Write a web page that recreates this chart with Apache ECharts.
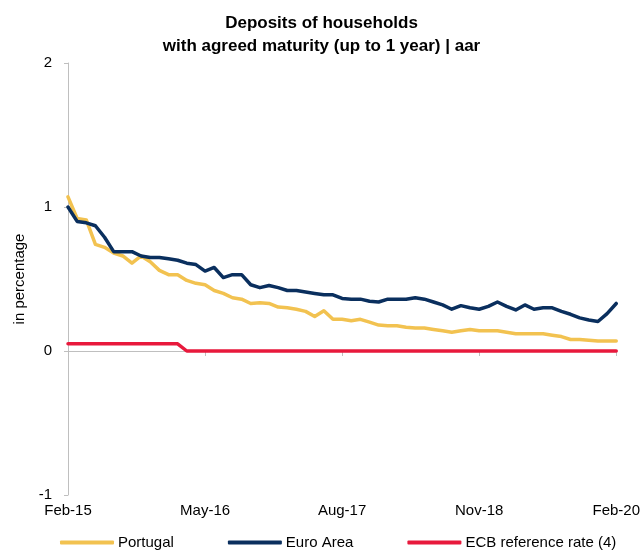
<!DOCTYPE html>
<html>
<head>
<meta charset="utf-8">
<script src="https://cdn.jsdelivr.net/npm/echarts@6/dist/echarts.min.js"></script>
<style>
html,body{margin:0;padding:0;background:#fff;}
#chart{width:643px;height:554px;}
</style>
</head>
<body>
<div id="chart"></div>
<script>
const months = ['Jan','Feb','Mar','Apr','May','Jun','Jul','Aug','Sep','Oct','Nov','Dec'];
const categories = [];
for (let i = 0; i <= 60; i++) {
  const m = (1 + i) % 12;
  const y = 15 + Math.floor((1 + i) / 12);
  categories.push(months[m] + '-' + y);
}
const portugal = [1.07,0.92,0.91,0.74,0.72,0.68,0.66,0.61,0.66,0.62,0.56,0.53,0.53,0.49,0.47,0.46,0.42,0.40,0.37,0.36,0.33,0.335,0.33,0.305,0.30,0.29,0.275,0.24,0.28,0.22,0.22,0.21,0.22,0.20,0.18,0.175,0.175,0.165,0.16,0.16,0.15,0.14,0.13,0.14,0.15,0.14,0.14,0.14,0.13,0.12,0.12,0.12,0.12,0.11,0.10,0.08,0.08,0.075,0.07,0.07,0.07];
const euroArea = [1.0,0.90,0.89,0.87,0.79,0.69,0.69,0.69,0.66,0.65,0.65,0.64,0.63,0.61,0.60,0.555,0.58,0.51,0.53,0.53,0.46,0.44,0.455,0.44,0.42,0.42,0.41,0.40,0.39,0.39,0.365,0.36,0.36,0.345,0.34,0.36,0.36,0.36,0.37,0.36,0.34,0.32,0.29,0.315,0.30,0.29,0.31,0.34,0.31,0.285,0.32,0.29,0.30,0.30,0.275,0.255,0.23,0.215,0.205,0.26,0.33];
const ecbRate = [0.05,0.05,0.05,0.05,0.05,0.05,0.05,0.05,0.05,0.05,0.05,0.05,0.05,0,0,0,0,0,0,0,0,0,0,0,0,0,0,0,0,0,0,0,0,0,0,0,0,0,0,0,0,0,0,0,0,0,0,0,0,0,0,0,0,0,0,0,0,0,0,0,0];
const yTicks = [-1, 0, 1, 2];

const FONT = "'Liberation Sans Narrow', 'Arial Narrow', 'Liberation Sans', Arial, sans-serif";
const chart = echarts.init(document.getElementById('chart'), null, {renderer: 'canvas'});
const lineSeries = (name, data, color) => ({
  name, type: 'line', data, showSymbol: false, symbol: 'none',
  lineStyle: {color, width: 3.5, cap: 'round', join: 'round'},
  itemStyle: {color}, xAxisIndex: 0, yAxisIndex: 0
});
chart.setOption({
  animation: false,
  backgroundColor: '#ffffff',
  textStyle: {fontFamily: FONT},
  title: {
    text: 'Deposits of households\nwith agreed maturity (up to 1 year) | aar',
    left: 'center', top: 7,
    textStyle: {fontFamily: FONT, fontSize: 17, fontWeight: 'bold', color: '#000', lineHeight: 23}
  },
  legend: {
    bottom: -1, left: 55, itemGap: 54, itemWidth: 54, itemHeight: 4,
    icon: 'roundRect',
    textStyle: {fontFamily: FONT, fontSize: 15, color: '#000', padding: [0,0,0,-1]},
    data: ['Portugal', 'Euro Area', 'ECB reference rate (4)']
  },
  grid: {left: 68, right: 26, top: 63, bottom: 59, containLabel: false},
  xAxis: [{
    type: 'category', data: categories, boundaryGap: false, position: 'bottom',
    axisLine: {onZero: true, lineStyle: {color: '#bfbfbf', width: 1}},
    axisTick: {show: true, interval: 14, length: 5, lineStyle: {color: '#bfbfbf'}},
    axisLabel: {show: false}, splitLine: {show: false}
  }, {
    type: 'category', data: categories, boundaryGap: false, position: 'bottom',
    axisLine: {show: false, onZero: false}, axisTick: {show: false},
    axisLabel: {show: true, interval: 14, margin: 8, fontSize: 15, color: '#000', fontFamily: FONT},
    splitLine: {show: false}
  }],
  yAxis: {
    type: 'value', min: -1, max: 2, interval: 1,
    name: 'in percentage', nameLocation: 'middle', nameRotate: 90, nameGap: 40,
    nameTextStyle: {fontFamily: FONT, fontSize: 15, color: '#000', padding: [0,0,0,0]},
    axisLine: {show: true, lineStyle: {color: '#bfbfbf', width: 1}},
    axisTick: {show: true, length: 4, lineStyle: {color: '#bfbfbf'}},
    axisLabel: {fontSize: 15, color: '#000', margin: 16, fontFamily: FONT,
      formatter: v => yTicks.includes(v) ? String(v) : ''},
    splitLine: {show: false}
  },
  series: [
    lineSeries('Portugal', portugal, '#f2c250'),
    lineSeries('Euro Area', euroArea, '#0a2f5e'),
    lineSeries('ECB reference rate (4)', ecbRate, '#e8193c')
  ]
});
</script>
</body>
</html>
